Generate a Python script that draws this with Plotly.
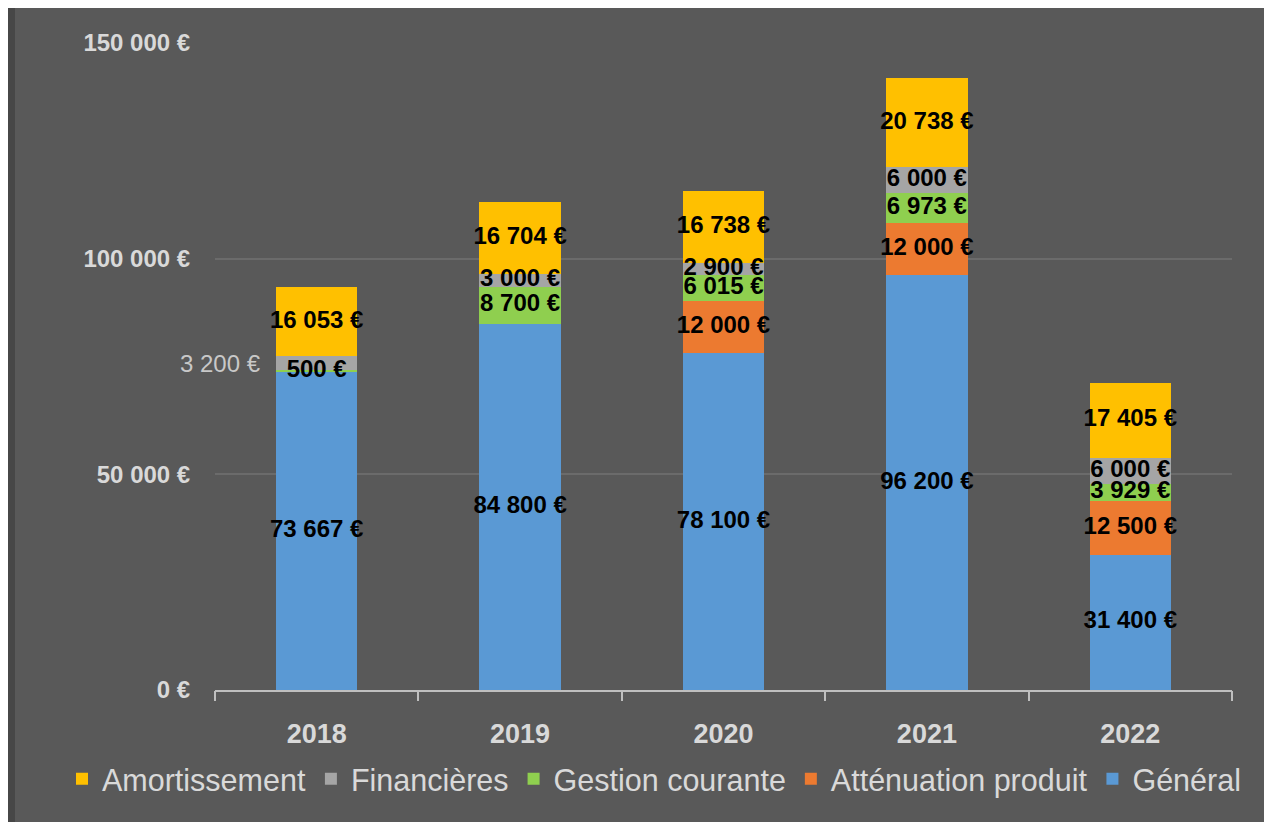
import plotly.graph_objects as go

years = ["2018", "2019", "2020", "2021", "2022"]
general = [73667, 84800, 78100, 96200, 31400]
attenuation = [0, 0, 12000, 12000, 12500]
gestion = [500, 8700, 6015, 6973, 3929]
financieres = [3200, 3000, 2900, 6000, 6000]
amortissement = [16053, 16704, 16738, 20738, 17405]
y_ticks = [0, 50000, 100000, 150000]

series = [
    ("Général", general, "#5a99d4"),
    ("Atténuation produit", attenuation, "#ec7a30"),
    ("Gestion courante", gestion, "#8fcf4f"),
    ("Financières", financieres, "#a5a5a5"),
    ("Amortissement", amortissement, "#ffc000"),
]


def fmt(v):
    return f"{v:,}".replace(",", " ") + " €"


# the page adds an 8px body margin, so the figure is 8px smaller than the window
W, H = 1264, 814
L, R, T, B = 207, 40, 35, 132
pw, ph = W - L - R, H - T - B


def px_x(p):
    return (p - L) / pw


def px_y(p):
    return (H - B - p) / ph


FONT = "Liberation Sans, Arial, sans-serif"

fig = go.Figure()
for name, vals, col in series:
    fig.add_trace(go.Bar(
        x=years, y=vals, name=name, marker=dict(color=col, line=dict(width=0)),
        hoverinfo="skip",
    ))

# value labels drawn on top of all segments, at each segment's middle
lab_x, lab_y, lab_t = [], [], []
base = [0] * len(years)
for name, vals, col in series:
    for i, v in enumerate(vals):
        if v != 0 and not (name == "Financières" and years[i] == "2018"):
            lab_x.append(years[i])
            lab_y.append(base[i] + v / 2)
            lab_t.append("<b>" + fmt(v) + "</b>")
        base[i] += v
fig.add_trace(go.Scatter(
    x=lab_x, y=lab_y, text=lab_t, mode="text", textposition="middle center",
    textfont=dict(family=FONT, size=24, color="black"),
    showlegend=False, hoverinfo="skip",
))

# empty helper trace so that the boundary-tick axis is drawn
fig.add_trace(go.Scatter(x=[], y=[], xaxis="x2", showlegend=False, hoverinfo="skip"))

# outside label for 2018 Financières (category index 0)
base18 = general[0] + attenuation[0] + gestion[0]
fig.add_annotation(
    x=0, y=base18 + financieres[0] / 2, text=fmt(financieres[0]),
    showarrow=False, xshift=-96,
    font=dict(family=FONT, size=24, color="#c8c8c8"),
)

# frame
fig.add_shape(type="rect", xref="paper", yref="paper", layer="below",
              x0=px_x(7), x1=px_x(1260), y0=px_y(830), y1=px_y(-10),
              fillcolor="#595959", line=dict(width=0))

fig.update_layout(
    width=W, height=H,
    margin=dict(l=L, r=R, t=T, b=B, autoexpand=False),
    paper_bgcolor="#474747", plot_bgcolor="rgba(0,0,0,0)",
    barmode="stack", bargap=0.6,
    showlegend=True,
    legend=dict(orientation="h", traceorder="reversed",
                x=px_x(54), xanchor="left", y=px_y(771), yanchor="middle",
                font=dict(family=FONT, size=30.5, color="#d9d9d9"),
                bgcolor="rgba(0,0,0,0)"),
    xaxis=dict(type="category", showgrid=False, showline=True, linecolor="#bfbfbf",
               linewidth=2, ticks="outside", ticklen=19, tickcolor="rgba(0,0,0,0)",
               tickvals=years, ticktext=["<b>" + y + "</b>" for y in years],
               range=[-0.5, len(years) - 0.5],
               tickfont=dict(family=FONT, size=27, color="#d9d9d9")),
    xaxis2=dict(overlaying="x", anchor="y", side="bottom", range=[-0.5, len(years) - 0.5],
                type="linear",
                showgrid=False, showline=False, zeroline=False, ticks="outside",
                ticklen=10, tickwidth=2, tickcolor="#bfbfbf",
                tickmode="array",
                tickvals=[i - 0.5 for i in range(len(years) + 1)], showticklabels=False),
    yaxis=dict(range=[0, 150000], tickvals=y_ticks,
               ticktext=["<b>" + fmt(v) + "</b>" for v in y_ticks],
               showgrid=True, gridcolor="#6b6b6b", gridwidth=2, zeroline=False,
               showline=False, ticks="outside", ticklen=19, tickcolor="rgba(0,0,0,0)",
               tickfont=dict(family=FONT, size=24, color="#d9d9d9")),
)

fig.write_html("out.html")
